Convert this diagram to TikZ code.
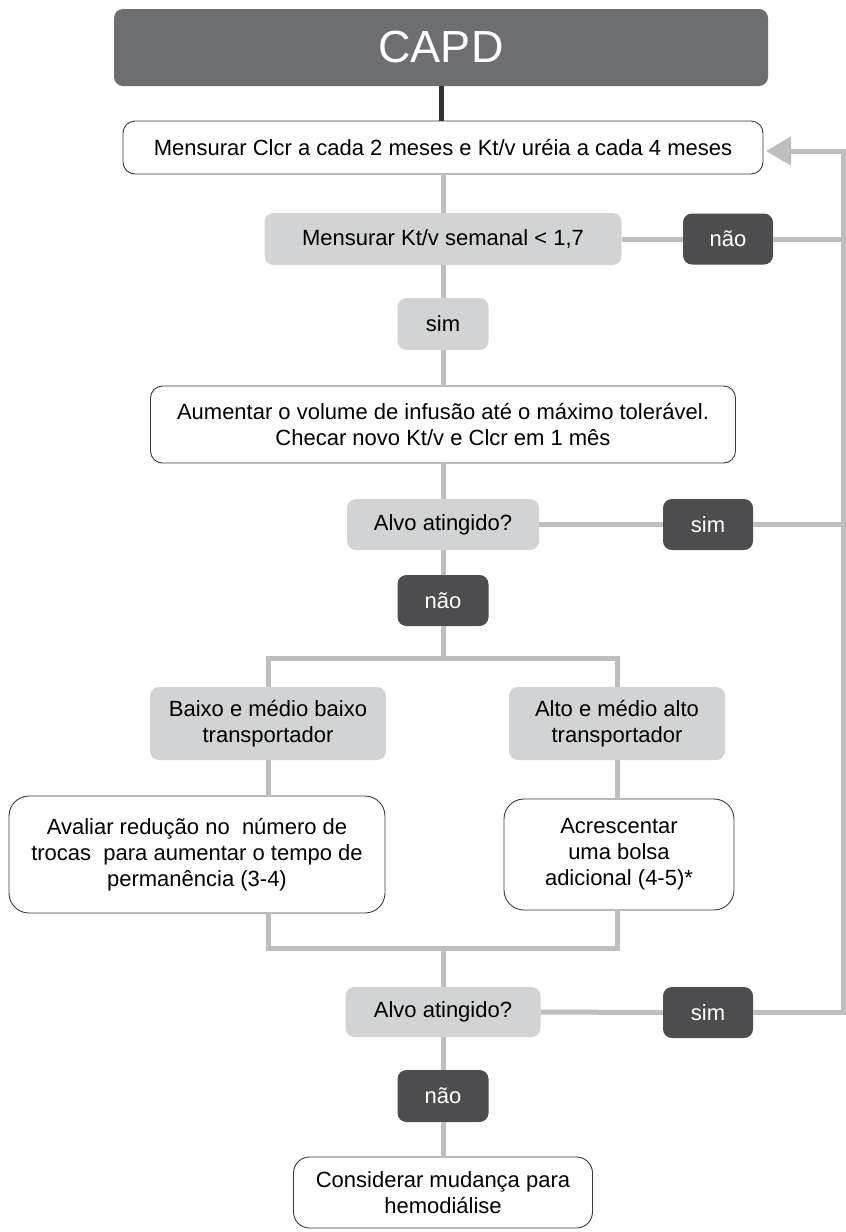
\documentclass[tikz,border=0pt]{standalone}
\usepackage{fontspec}
\setmainfont{Liberation Sans}
\usetikzlibrary{arrows.meta}
\definecolor{capdfill}{HTML}{6D6E71}
\definecolor{darkfill}{HTML}{4D4D4F}
\definecolor{lightfill}{HTML}{D1D3D4}
\definecolor{linegray}{HTML}{BCBEC0}
\definecolor{darkline}{HTML}{333333}
\definecolor{boxline}{HTML}{3A3A3A}
\begin{document}
\begin{tikzpicture}[x=1pt,y=-1pt,
  base/.style={rectangle, inner sep=0pt, align=center,
    font=\fontsize{22}{26}\selectfont},
  capdbox/.style={base, fill=capdfill, text=white, rounded corners=9pt,
    font=\fontsize{45}{48}\selectfont},
  lightbox/.style={base, fill=lightfill, rounded corners=9pt},
  darkbox/.style={base, fill=darkfill, text=white, rounded corners=9pt},
  whitebox/.style={base, fill=white, draw=boxline, line width=0.9pt, rounded corners=12pt},
  gline/.style={draw=linegray, line width=5pt},
  dline/.style={draw=darkline, line width=5pt},
]
\useasboundingbox[fill=white] (0,0) rectangle (846,1232);

% boxes
\node[capdbox, minimum width=654pt, minimum height=77pt] (capd) at (441,47.5) {CAPD};
\node[whitebox, minimum width=640pt, minimum height=53pt] (m1) at (443,147.5)
  {Mensurar Clcr a cada 2 meses e Kt/v uréia a cada 4 meses};
\node[lightbox, minimum width=357pt, minimum height=52pt] (kt) at (443,239)
  {Mensurar Kt/v semanal < 1,7};
\node[darkbox, minimum width=90pt, minimum height=51pt] (nao1) at (728,239) {não};
\node[lightbox, minimum width=91pt, minimum height=52pt] (sim1) at (443,324) {sim};
\node[whitebox, minimum width=585pt, minimum height=77pt] (aum) at (443,424.5)
  {Aumentar o volume de infusão até o máximo tolerável.\\Checar novo Kt/v e Clcr em 1 mês};
\node[lightbox, minimum width=192pt, minimum height=51pt] (alvo1) at (443,524.5) {Alvo atingido?};
\node[darkbox, minimum width=90pt, minimum height=51pt] (sim) at (708,524.5) {sim};
\node[darkbox, minimum width=91pt, minimum height=51pt] (nao2) at (443,600.5) {não};
\node[lightbox, minimum width=236pt, minimum height=73pt] (baixo) at (268,723.5)
  {Baixo e médio baixo\\transportador};
\node[lightbox, minimum width=216pt, minimum height=73pt] (alto) at (617,723.5)
  {Alto e médio alto\\transportador};
\node[whitebox, rounded corners=20pt, minimum width=376pt, minimum height=117pt] (aval) at (197,854.5)
  {Avaliar redução no\ \ número de\\trocas\ \ para aumentar o tempo de\\permanência (3-4)};
\node[whitebox, rounded corners=20pt, minimum width=230pt, minimum height=111pt] (acres) at (619,854.5)
  {Acrescentar\\uma bolsa\\adicional (4-5)*};
\node[lightbox, minimum width=195pt, minimum height=50pt] (alvo2) at (443,1012) {Alvo atingido?};
\node[darkbox, minimum width=90pt, minimum height=51pt] (sim2) at (708,1012.5) {sim};
\node[darkbox, minimum width=91pt, minimum height=52pt] (nao3) at (443,1096) {não};
\node[whitebox, rounded corners=16pt, minimum width=299pt, minimum height=71pt] (fim) at (443,1192.5)
  {Considerar mudança para\\hemodiálise};

% helper points
\coordinate (rx) at (843,0);
\coordinate (ret) at (766,151);
\coordinate (split) at (443,658);
\coordinate (join) at (443,948);

% connectors
\draw[dline] (capd.south) -- (capd.south |- m1.north);
\draw[gline] (m1.south -| kt) -- (kt.north);
\draw[gline] (kt.south) -- (sim1.north);
\draw[gline] (sim1.south) -- (aum.north -| sim1);
\draw[gline] (aum.south -| alvo1) -- (alvo1.north);
\draw[gline] (alvo1.south) -- (nao2.north);
\draw[gline] (kt.east) -- (nao1.west);
\draw[gline] (nao1.east) -- (nao1.east -| rx);
\draw[gline] (alvo1.east) -- (sim.west);
\draw[gline] (sim.east) -- (sim.east -| rx);
\draw[gline] (alvo2.east) -- (sim2.west);
\draw[gline, -{Triangle[length=25pt,width=28pt]}]
  (sim2.east) -- (sim2.east -| rx) -- (rx |- ret) -- (ret);

\draw[gline] (nao2.south) -- (split);
\draw[gline] (baixo.north) -- (baixo.north |- split) -- (alto.north |- split) -- (alto.north);
\draw[gline] (baixo.south) -- (baixo.south |- aval.north);
\draw[gline] (alto.south) -- (alto.south |- acres.north);
\draw[gline] (aval.south -| baixo) -- (baixo |- join) -- (alto |- join) -- (acres.south -| alto);
\draw[gline] (join) -- (alvo2.north);
\draw[gline] (alvo2.south) -- (nao3.north);
\draw[gline] (nao3.south) -- (fim.north);
\end{tikzpicture}
\end{document}
